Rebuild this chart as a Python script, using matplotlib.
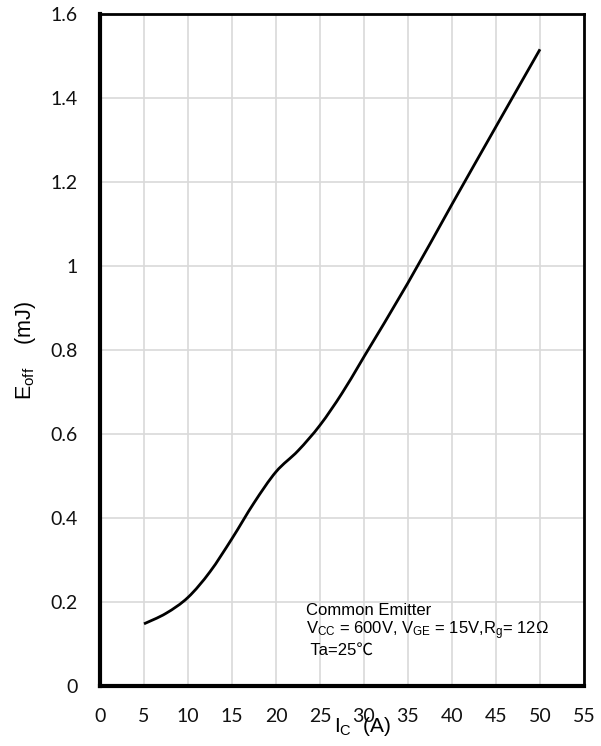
import matplotlib
matplotlib.use("Agg")
import matplotlib.pyplot as plt
from matplotlib.path import Path
from matplotlib.patches import PathPatch
import numpy as np

# Turn-off switching energy vs collector current
ic_amps = [5, 7.5, 10, 12.5, 15, 17.5, 20, 22.5, 25, 27.5, 30, 35, 40, 45, 50]
eoff_mj = [0.148, 0.173, 0.211, 0.272, 0.351, 0.436, 0.510, 0.560, 0.621,
           0.697, 0.784, 0.960, 1.147, 1.332, 1.516]

x_ticks = [0, 5, 10, 15, 20, 25, 30, 35, 40, 45, 50, 55]
y_ticks = [0, 0.2, 0.4, 0.6, 0.8, 1.0, 1.2, 1.4, 1.6]
y_tick_labels = ["0", "0.2", "0.4", "0.6", "0.8", "1", "1.2", "1.4", "1.6"]

plt.rcParams["mathtext.fontset"] = "custom"
plt.rcParams["mathtext.rm"] = "Liberation Sans"
plt.rcParams["mathtext.it"] = "Liberation Sans"

fig = plt.figure(figsize=(6.01, 7.46), dpi=100)
ax = fig.add_axes([100 / 601, 60 / 746, 484 / 601, 672 / 746])

ax.set_xlim(0, 55)
ax.set_ylim(0, 1.6)
ax.set_xticks(x_ticks)
ax.set_xticklabels([str(t) for t in x_ticks])
ax.set_yticks(y_ticks)
ax.set_yticklabels(y_tick_labels)

ax.grid(True, color="#d9d9d9", linewidth=1.2, zorder=0)
ax.set_axisbelow(True)
ax.tick_params(axis="both", length=0, labelsize=14)
ax.tick_params(axis="y", pad=16)
ax.tick_params(axis="x", pad=16)
for lab in ax.get_xticklabels() + ax.get_yticklabels():
    lab.set_fontfamily("Lato")
    lab.set_color("#111111")

for side in ("left", "bottom"):
    ax.spines[side].set_linewidth(3.0)
for side in ("top", "right"):
    ax.spines[side].set_linewidth(2.0)
for sp in ax.spines.values():
    sp.set_color("black")
    sp.set_capstyle("projecting")

# Smoothed curve (Catmull-Rom style cubic Bezier segments through the points)
pts = np.column_stack([ic_amps, eoff_mj])
n = len(pts)
verts = [tuple(pts[0])]
codes = [Path.MOVETO]
for i in range(n - 1):
    p0 = pts[i - 1] if i > 0 else pts[i]
    p1 = pts[i]
    p2 = pts[i + 1]
    p3 = pts[i + 2] if i + 2 < n else pts[i + 1]
    c1 = p1 + (p2 - p0) / 6.0
    c2 = p2 - (p3 - p1) / 6.0
    verts += [tuple(c1), tuple(c2), tuple(p2)]
    codes += [Path.CURVE4, Path.CURVE4, Path.CURVE4]
curve = PathPatch(Path(verts, codes), facecolor="none", edgecolor="black",
                  linewidth=2.0, transform=ax.transData, zorder=3,
                  capstyle="butt")
ax.add_patch(curve)

# Axis labels
ax.set_xlabel(r"I$_{\mathregular{C}}$  (A)", fontsize=15,
              family="Liberation Sans")
ax.xaxis.set_label_coords((363 - 100) / 484, (686 - 726) / 672)
ax.xaxis.label.set_va("center")
ax.set_ylabel(r"E$_{\mathregular{off}}$    (mJ)", fontsize=15.5,
              family="Liberation Sans")
ax.yaxis.set_label_coords((25 - 100) / 484, 0.5)
ax.yaxis.label.set_va("center")

# Test conditions
tx = (306 - 100) / 484
ax.text(tx, (686 - 615) / 672, "Common Emitter", transform=ax.transAxes,
        fontsize=12, family="Liberation Sans", va="baseline", ha="left")
ax.text(tx, (686 - 634) / 672,
        r"V$_{\mathregular{CC}}$ = 600V, V$_{\mathregular{GE}}$ = 15V,"
        r"R$_{\mathregular{g}}$= 12Ω",
        transform=ax.transAxes, fontsize=12, family="Liberation Sans",
        va="baseline", ha="left")
ax.text(tx, (686 - 655) / 672, " Ta=25℃", transform=ax.transAxes,
        fontsize=12, family=["Liberation Sans", "Noto Sans CJK SC"],
        va="baseline", ha="left")

fig.savefig("out.png", dpi=100)
